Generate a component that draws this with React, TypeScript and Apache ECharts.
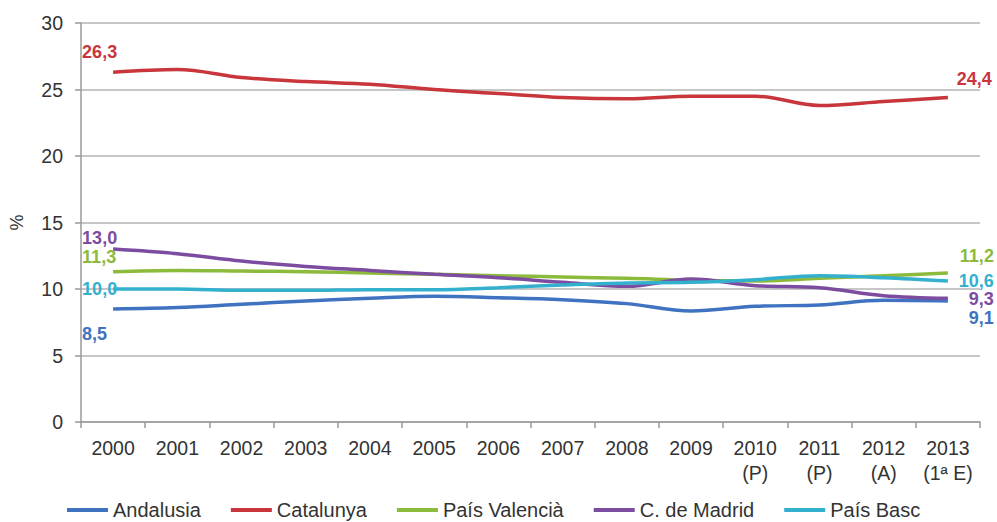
import React, { useEffect, useRef } from "react";
import * as echarts from "echarts";

const categories = [
  "2000", "2001", "2002", "2003", "2004", "2005", "2006", "2007", "2008", "2009",
  "2010\n(P)", "2011\n(P)", "2012\n(A)", "2013\n(1ª E)",
];

const andalusia = [8.5, 8.6, 8.85, 9.1, 9.3, 9.45, 9.35, 9.2, 8.9, 8.35, 8.7, 8.8, 9.15, 9.1];
const catalunya = [26.3, 26.5, 25.9, 25.6, 25.4, 25.0, 24.7, 24.4, 24.3, 24.5, 24.5, 23.8, 24.1, 24.4];
const paisValencia = [11.3, 11.4, 11.35, 11.3, 11.2, 11.1, 11.0, 10.9, 10.8, 10.65, 10.6, 10.8, 11.0, 11.2];
const madrid = [13.0, 12.65, 12.1, 11.7, 11.4, 11.1, 10.85, 10.5, 10.2, 10.75, 10.25, 10.1, 9.5, 9.3];
const paisBasc = [10.0, 10.0, 9.9, 9.9, 9.95, 9.95, 10.1, 10.3, 10.45, 10.5, 10.7, 11.0, 10.85, 10.6];

const seriesNames = ["Andalusia", "Catalunya", "País Valencià", "C. de Madrid", "País Basc"];
const seriesColors = ["#3f72c0", "#c8363b", "#8cba3c", "#7b4c9f", "#34b0cf"];

// label offsets [first dx, first dy, last dx, last dy]
const labelOffsets = [
  [-31, 25, 46, 17.5],
  [-31, -20, 44, -18.5],
  [-31, -15, 46, -17],
  [-31, -11, 46, 1],
  [-31, 0, 46, 0],
];

const FONT = "'Liberation Sans', Arial, Helvetica, sans-serif";

const fmt = (v: number) => v.toFixed(1).replace(".", ",");

export default function App() {
  const ref = useRef<HTMLDivElement>(null);
  useEffect(() => {
    if (!ref.current) return;
    const chart = echarts.init(ref.current, null, { renderer: "svg" });
    const allData = [andalusia, catalunya, paisValencia, madrid, paisBasc];
    const series = allData.map((arr, si) => {
      const color = seriesColors[si];
      const off = labelOffsets[si];
      const data = arr.map((v, i) => {
        if (i === 0 || i === arr.length - 1) {
          const first = i === 0;
          return {
            value: v,
            label: {
              show: true,
              position: "inside",
              align: first ? "left" : "right",
              verticalAlign: "middle",
              offset: first ? [off[0], off[1]] : [off[2], off[3]],
              formatter: () => fmt(v),
              color,
              fontSize: 18,
              fontWeight: "bold",
              fontFamily: FONT,
            },
          };
        }
        return v;
      });
      return {
        name: seriesNames[si],
        type: "line",
        data,
        smooth: 0.35,
        showSymbol: true,
        symbol: "circle",
        symbolSize: 0,
        color,
        lineStyle: { width: 3.5, color },
        itemStyle: { color },
        label: { show: false },
        emphasis: { disabled: true },
        z: si === 1 ? 3 : 2,
      };
    });

    chart.setOption({
      animation: false,
      backgroundColor: "#ffffff",
      textStyle: { fontFamily: FONT },
      grid: { left: 75, right: 17, top: 23, bottom: 100, containLabel: false },
      legend: {
        data: seriesNames,
        top: 500,
        left: 67,
        padding: 0,
        icon: "rect",
        itemWidth: 41,
        itemHeight: 4,
        itemGap: 30,
        textStyle: { fontSize: 20, lineHeight: 20, color: "#333", fontFamily: FONT },
      },
      xAxis: {
        type: "category",
        data: categories,
        boundaryGap: true,
        axisLine: { show: true, lineStyle: { color: "#9a9a9a", width: 1.5 } },
        axisTick: { show: true, length: 6, lineStyle: { color: "#9a9a9a", width: 1.5 } },
        axisLabel: {
          interval: 0,
          margin: 13,
          fontSize: 19.5,
          lineHeight: 25,
          color: "#333",
          fontFamily: FONT,
        },
      },
      yAxis: {
        type: "value",
        min: 0,
        max: 30,
        interval: 5,
        name: "%",
        nameLocation: "middle",
        nameGap: 55,
        nameRotate: 90,
        nameTextStyle: { fontSize: 18, color: "#333", fontFamily: FONT },
        axisLine: { show: true, lineStyle: { color: "#9a9a9a", width: 1.5 } },
        axisTick: { show: true, length: 6, lineStyle: { color: "#9a9a9a", width: 1.5 } },
        splitLine: { show: true, lineStyle: { color: "#b5b5b5", width: 1.5 } },
        axisLabel: { margin: 18, fontSize: 19.5, color: "#333", fontFamily: FONT },
      },
      series,
    });
    return () => chart.dispose();
  }, []);
  return (
    <div
      ref={ref}
      style={{ position: "fixed", left: 0, top: 0, width: 997, height: 522, background: "#fff" }}
    />
  );
}
